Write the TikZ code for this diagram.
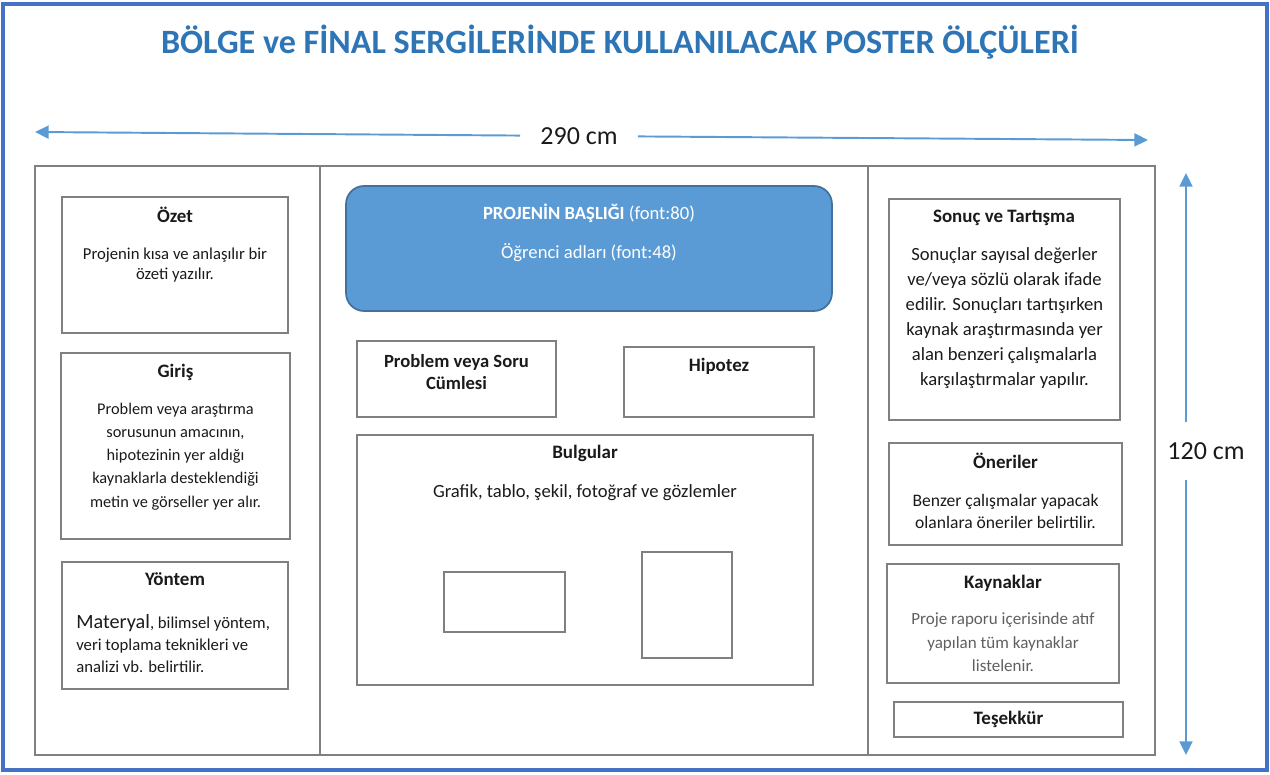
\documentclass[tikz,border=0pt]{standalone}
\usepackage{fontspec}
\setmainfont{Carlito}
\usepackage{tikz}
\usetikzlibrary{shapes,arrows,arrows.meta,positioning}

\definecolor{framecol}{RGB}{68,114,196}
\definecolor{titlecol}{RGB}{46,117,182}
\definecolor{arrowcol}{RGB}{91,155,213}
\definecolor{boxgray}{RGB}{128,128,128}
\definecolor{ink}{RGB}{26,26,26}
\definecolor{softgray}{RGB}{95,95,95}
\definecolor{headfill}{RGB}{91,155,213}
\definecolor{headdraw}{RGB}{65,113,156}

\tikzset{
    block/.style = {draw=boxgray,
                    rectangle,
                    line width=0.8pt,
                    inner sep=0pt
    },
    head/.style = {font=\bfseries\fontsize{10.8}{13}\selectfont,
                   text=ink,
                   text height=7.4pt,
                   text depth=2.2pt,
                   inner sep=0pt
    },
    body/.style = {align=center,
                   text=ink,
                   inner sep=0pt
    },
    dim/.style = {draw=arrowcol, line width=1.1pt, ->}
}

\begin{document}
\begin{tikzpicture}[x=0.02cm, y=-0.02cm, >={Triangle[length=7.8pt,width=7.4pt]}]
    \useasboundingbox (0,0) rectangle (1270,774);
    \draw[framecol, line width=2.3pt] (3,4) rectangle (1267,770);

    \node[font=\bfseries\fontsize{19.4}{23}\selectfont, text=titlecol, anchor=base] (title) at (620,53)
        {BÖLGE ve FİNAL SERGİLERİNDE KULLANILACAK POSTER ÖLÇÜLERİ};

    % olculer
    \coordinate (wleft)  at (35,132);
    \coordinate (wright) at (1148,140);
    \node[font=\fontsize{14.8}{16}\selectfont, text=ink, inner xsep=11.3pt, inner ysep=1pt] (w290) at (579,136) {290 cm};
    \draw[dim] (w290) -- (wleft);
    \draw[dim] (w290) -- (wright);

    \coordinate (htop) at (1186,173);
    \coordinate (hbot) at (1186,755);
    \node[font=\fontsize{14.8}{16}\selectfont, text=ink, inner xsep=1pt, inner ysep=11.2pt] (h120) at (1206,451) {120 cm};
    \draw[dim] (h120.north -| htop) -- (htop);
    \draw[dim] (h120.south -| hbot) -- (hbot);

    % poster
    \node[block, line width=0.9pt, minimum width=22.4cm, minimum height=11.78cm] (poster) at (595,460.5) {};
    \draw[boxgray, line width=0.9pt] (320,166) -- (320,755);
    \draw[boxgray, line width=0.9pt] (868,166) -- (868,755);

    % sol sutun
    \node[block, minimum width=4.52cm, minimum height=2.72cm] (ozet) at (175,265) {};
    \node[head] (ozethead) at (175,218) {Özet};
    \node[body, font=\fontsize{9.5}{11.3}\selectfont] (ozettext) at (175,265)
        {Projenin kısa ve anlaşılır bir\\özeti yazılır.};

    \node[block, minimum width=4.58cm, minimum height=3.72cm] (giris) at (175.5,446) {};
    \node[head] (girishead) at (175.5,373) {Giriş};
    \node[body, font=\fontsize{9.3}{13.2}\selectfont] (giristext) at (175.5,456.5)
        {Problem veya araştırma\\sorusunun amacının,\\hipotezinin yer aldığı\\kaynaklarla desteklendiği\\metin ve görseller yer alır.};

    \node[block, minimum width=4.52cm, minimum height=2.54cm] (yontem) at (175,625.5) {};
    \node[head] (yontemhead) at (175,581) {Yöntem};
    \node[body, align=left, anchor=west, font=\fontsize{9.5}{12.5}\selectfont] (yontemtext) at (76,644)
        {{\fontsize{11.5}{12.5}\selectfont Materyal}, bilimsel yöntem,\\veri toplama teknikleri ve\\analizi vb. belirtilir.};

    % orta sutun
    \node[block, draw=headdraw, fill=headfill, rounded corners=0.36cm, line width=1pt,
          minimum width=9.72cm, minimum height=2.5cm] (baslik) at (589,248.5) {};
    \node[body, text=white, font=\fontsize{10.6}{22}\selectfont] (basliktext) at (589,232.5)
        {\textbf{PROJENİN BAŞLIĞI} (font:80)\\Öğrenci adları (font:48)};

    \node[block, minimum width=3.98cm, minimum height=1.52cm] (problem) at (456.5,379) {};
    \node[body, font=\bfseries\fontsize{10.6}{12.8}\selectfont] (problemtext) at (456.5,372)
        {Problem veya Soru\\Cümlesi};

    \node[block, minimum width=3.8cm, minimum height=1.4cm] (hipotez) at (719,382) {};
    \node[head] (hipotezhead) at (719,366.7) {Hipotez};

    \node[block, minimum width=9.12cm, minimum height=5cm] (bulgular) at (585,560) {};
    \node[head] (bulgularhead) at (585,454) {Bulgular};
    \node[body, font=\fontsize{10.6}{13}\selectfont, text height=7.3pt, text depth=2.2pt] (bulgulartext) at (585,493)
        {Grafik, tablo, şekil, fotoğraf ve gözlemler};
    \node[block, line width=0.7pt, minimum width=2.42cm, minimum height=1.2cm] (tablo) at (504.5,602) {};
    \node[block, line width=0.7pt, minimum width=1.8cm, minimum height=2.12cm] (foto) at (687,605) {};

    % sag sutun
    \node[block, minimum width=4.62cm, minimum height=4.42cm] (sonuc) at (1004.5,309.5) {};
    \node[head] (sonuchead) at (1004,218) {Sonuç ve Tartışma};
    \node[body, font=\fontsize{10.6}{14.3}\selectfont] (sonuctext) at (1004.5,318)
        {Sonuçlar sayısal değerler\\ve/veya sözlü olarak ifade\\edilir. Sonuçları tartışırken\\kaynak araştırmasında yer\\alan benzeri çalışmalarla\\karşılaştırmalar yapılır.};

    \node[block, minimum width=4.66cm, minimum height=2.04cm] (oneri) at (1005.5,494) {};
    \node[head] (onerihead) at (1005.5,463.5) {Öneriler};
    \node[body, font=\fontsize{10}{12.5}\selectfont] (oneritext) at (1005.5,511)
        {Benzer çalışmalar yapacak\\olanlara öneriler belirtilir.};

    \node[block, minimum width=4.64cm, minimum height=2.38cm] (kaynak) at (1003,623.5) {};
    \node[head] (kaynakhead) at (1003,584) {Kaynaklar};
    \node[body, text=softgray, font=\fontsize{9.7}{13.3}\selectfont] (kaynaktext) at (1003,642.5)
        {Proje raporu içerisinde atıf\\yapılan tüm kaynaklar\\listelenir.};

    \node[block, minimum width=4.58cm, minimum height=0.7cm] (tesekkur) at (1008.5,719.5) {};
    \node[head] (tesekkurhead) at (1008.5,720) {Teşekkür};
\end{tikzpicture}
\end{document}
